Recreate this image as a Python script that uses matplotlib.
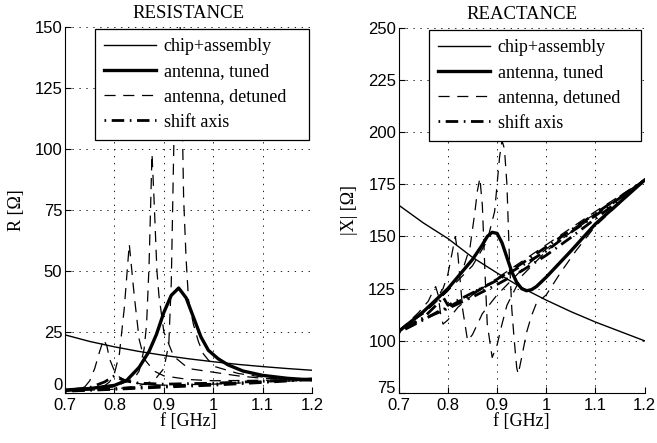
import matplotlib
matplotlib.use("Agg")
import matplotlib.pyplot as plt

plt.rcParams['font.family'] = 'Liberation Sans'
plt.rcParams['lines.scale_dashes'] = False
serif = 'Liberation Serif'

# ---------------- RESISTANCE data ----------------
f_chip = [0.70, 0.75, 0.80, 0.85, 0.90, 0.95, 1.00, 1.05, 1.10, 1.15, 1.20]
R_chip = [23.8, 21.1, 18.9, 17.0, 15.4, 14.0, 12.8, 11.7, 10.8, 10.0, 9.3]
X_chip = [165, 156.5, 149, 140, 132.5, 125.5, 119.5, 114, 109, 104.5, 100]

fR_tuned = [0.70, 0.75, 0.80, 0.825, 0.85, 0.87, 0.885, 0.90, 0.915, 0.93, 0.945,
            0.96, 0.975, 0.99, 1.01, 1.03, 1.06, 1.10, 1.15, 1.20]
R_tuned = [1.2, 1.8, 3.1, 5.2, 10.5, 17, 24, 33, 40, 43, 39,
           31, 23, 17.5, 14, 11.5, 9, 7.2, 6, 5.3]

fR_det1 = [0.70, 0.73, 0.74, 0.75, 0.76, 0.77, 0.778, 0.785, 0.79, 0.80, 0.81, 0.83, 0.86, 0.90, 1.00, 1.10, 1.20]
R_det1 = [1.0, 1.8, 2.5, 5, 10, 17, 22, 19, 14, 9, 6.5, 4.5, 3.5, 3.2, 3.6, 4.5, 5.2]
fR_det2 = [0.70, 0.75, 0.78, 0.79, 0.80, 0.81, 0.82, 0.83, 0.84, 0.85, 0.86, 0.88, 0.90, 0.95, 1.00, 1.10, 1.20]
R_det2 = [0.8, 1.5, 3, 4.5, 8, 16, 35, 61, 40, 22, 14, 9, 7, 5.5, 5, 5.2, 5.5]
fR_det3 = [0.70, 0.80, 0.84, 0.85, 0.86, 0.865, 0.87, 0.876, 0.88, 0.886, 0.89, 0.90, 0.92, 0.95, 1.00, 1.05, 1.10, 1.20]
R_det3 = [0.8, 2.5, 6, 9, 18, 28, 52, 98, 80, 50, 40, 25, 15, 10, 8.5, 7, 6, 5.5]
fR_det4 = [0.70, 0.80, 0.85, 0.88, 0.90, 0.91, 0.915, 0.92, 0.925, 0.93, 0.935, 0.94, 0.945,
           0.95, 0.96, 0.97, 0.98, 1.00, 1.05, 1.10, 1.20]
R_det4 = [0.8, 1.5, 3, 5, 10, 20, 45, 100, 150, 165, 140, 80, 55,
          38, 28, 21, 16, 11, 8, 6.5, 5.5]

fR_sh1 = [0.70, 0.75, 0.78, 0.80, 0.82, 0.85, 0.90, 1.00, 1.10, 1.20]
R_sh1 = [1.0, 2.2, 4.5, 7.0, 5.0, 4.0, 3.6, 4.0, 4.8, 5.6]
fR_sh2 = [0.70, 0.80, 0.85, 0.90, 0.95, 1.00, 1.10, 1.20]
R_sh2 = [0.8, 1.8, 2.3, 2.8, 3.2, 3.6, 4.6, 5.8]
fR_sh3 = [0.70, 0.80, 0.90, 1.00, 1.10, 1.20]
R_sh3 = [0.7, 1.5, 2.4, 3.2, 4.3, 5.5]

# ---------------- REACTANCE data ----------------
fX_tuned = [0.70, 0.75, 0.80, 0.85, 0.87, 0.88, 0.89, 0.90, 0.91, 0.92, 0.93, 0.94, 0.95,
            0.96, 0.97, 0.98, 1.00, 1.05, 1.10, 1.15, 1.20]
X_tuned = [104.5, 114, 125, 139, 146, 150, 152, 151.5, 147, 140, 133, 128, 125,
           124, 124.5, 126, 130.5, 143, 156, 166.5, 177]

fX_det1 = [0.70, 0.72, 0.74, 0.76, 0.77, 0.775, 0.78, 0.785, 0.79, 0.80, 0.82, 0.85, 0.90,
           0.95, 1.00, 1.05, 1.10, 1.15, 1.20]
X_det1 = [105, 109, 113.5, 119, 124, 126, 122, 113, 108, 110, 116, 122, 130,
          138, 146, 154, 162, 169.5, 177]
fX_det2 = [0.70, 0.74, 0.77, 0.79, 0.80, 0.81, 0.815, 0.82, 0.83, 0.84, 0.85, 0.86, 0.87,
           0.90, 0.95, 1.00, 1.05, 1.10, 1.15, 1.20]
X_det2 = [105, 112, 118, 125, 132, 144, 150, 142, 115, 100, 103, 108, 113,
          122, 134, 144, 153, 161, 169, 177]
fX_det3 = [0.70, 0.75, 0.80, 0.83, 0.845, 0.855, 0.86, 0.865, 0.87, 0.875, 0.88, 0.89, 0.90,
           0.91, 0.92, 0.95, 1.00, 1.05, 1.10, 1.15, 1.20]
X_det3 = [105, 113, 124, 134, 145, 162, 172, 178, 165, 135, 108, 92, 98,
          108, 117, 131, 143, 152, 160, 169, 177]
fX_det4 = [0.70, 0.75, 0.80, 0.85, 0.88, 0.895, 0.90, 0.905, 0.91, 0.915, 0.92, 0.925, 0.93,
           0.935, 0.94, 0.943, 0.95, 0.96, 0.97, 0.98, 1.00, 1.03, 1.06, 1.10, 1.15, 1.20]
X_det4 = [105, 113, 124, 136, 148, 162, 175, 188, 196, 192, 175, 140, 115,
          100, 87, 84, 92, 104, 112, 118, 122, 133, 143, 155, 166, 177]

fX_sh = [0.70, 0.75, 0.78, 0.79, 0.80, 0.85, 0.90, 0.95, 1.00, 1.05, 1.10, 1.15, 1.20]
X_sh1 = [105, 111, 118, 121, 117, 123, 129, 136, 143, 152, 160, 168.5, 177]
X_sh2 = [104, 110, 114, 115, 116, 122.5, 129.5, 137, 145, 153, 161, 169, 177]
X_sh3 = [105, 110.5, 113.5, 114.5, 115.5, 121, 127, 133.5, 141, 149.5, 158.5, 167.5, 177]

xticks = [0.7, 0.8, 0.9, 1.0, 1.1, 1.2]
xticklabels = ['0.7', '0.8', '0.9', '1', '1.1', '1.2']

dash = dict(color='k', lw=0.9, dashes=(8, 5.5))
dashdot = dict(color='k', lw=2.0, dashes=(1.2, 4, 9, 4))
chip = dict(color='k', lw=1.0)
tuned = dict(color='k', lw=2.4)

fig = plt.figure(figsize=(6.57, 4.43), dpi=100)
ax1 = fig.add_axes([0.099, 0.113, 0.376, 0.826])
ax2 = fig.add_axes([0.607, 0.113, 0.374, 0.824])


def style(ax, ylim, yticks, ylabel, title):
    ax.set_xlim(0.7, 1.2)
    ax.set_ylim(*ylim)
    ax.set_xticks(xticks)
    ax.set_xticklabels(xticklabels)
    ax.set_yticks(yticks)
    ax.grid(True, color='k', linestyle=(0, (1, 4)), linewidth=0.6)
    ax.spines['top'].set_visible(False)
    ax.spines['right'].set_visible(False)
    ax.tick_params(direction='in', length=4, labelsize=12, pad=2)
    ax.tick_params(axis='x', pad=3.5)
    ax.set_xlabel('f [GHz]', family=serif, fontsize=13, labelpad=0)
    ax.set_ylabel(ylabel, family=serif, fontsize=13, labelpad=7)
    ax.set_title(title, family=serif, fontsize=13.5, pad=6.5)


# resistance
h1, = ax1.plot(f_chip, R_chip, **chip)
ax1.plot(fR_det1, R_det1, **dash)
ax1.plot(fR_det2, R_det2, **dash)
ax1.plot(fR_det3, R_det3, **dash)
h3, = ax1.plot(fR_det4, R_det4, **dash)
h4, = ax1.plot(fR_sh1, R_sh1, **dashdot)
ax1.plot(fR_sh2, R_sh2, **dashdot)
ax1.plot(fR_sh3, R_sh3, **dashdot)
h2, = ax1.plot(fR_tuned, R_tuned, **tuned)
style(ax1, (0, 150), [0, 25, 50, 75, 100, 125, 150], 'R [Ω]', 'RESISTANCE')
ax1.get_yticklabels()[0].set_va('bottom')

# reactance
g1, = ax2.plot(f_chip, X_chip, **chip)
ax2.plot(fX_det1, X_det1, **dash)
ax2.plot(fX_det2, X_det2, **dash)
ax2.plot(fX_det3, X_det3, **dash)
g3, = ax2.plot(fX_det4, X_det4, **dash)
g4, = ax2.plot(fX_sh, X_sh1, **dashdot)
ax2.plot(fX_sh, X_sh2, **dashdot)
ax2.plot(fX_sh, X_sh3, **dashdot)
g2, = ax2.plot(fX_tuned, X_tuned, **tuned)
style(ax2, (75, 250), [75, 100, 125, 150, 175, 200, 225, 250], '|X| [Ω]', 'REACTANCE')
ax2.get_yticklabels()[0].set_va('baseline')

labels = ['chip+assembly', 'antenna, tuned', 'antenna, detuned', 'shift axis']
for ax, hs, x0 in ((ax1, [h1, h2, h3, h4], 0.1215), (ax2, [g1, g2, g3, g4], 0.123)):
    leg = ax.legend(hs, labels, loc='upper left', bbox_to_anchor=(x0, 0.994, 0.986 - x0, 0.0),
                    mode='expand', prop={'family': serif, 'size': 13},
                    fancybox=False, framealpha=1, edgecolor='k', handlelength=2.9,
                    borderaxespad=0, labelspacing=0.45, borderpad=0.5, handletextpad=0.4)
    leg.get_frame().set_linewidth(0.9)

fig.savefig('out.png', dpi=100)
